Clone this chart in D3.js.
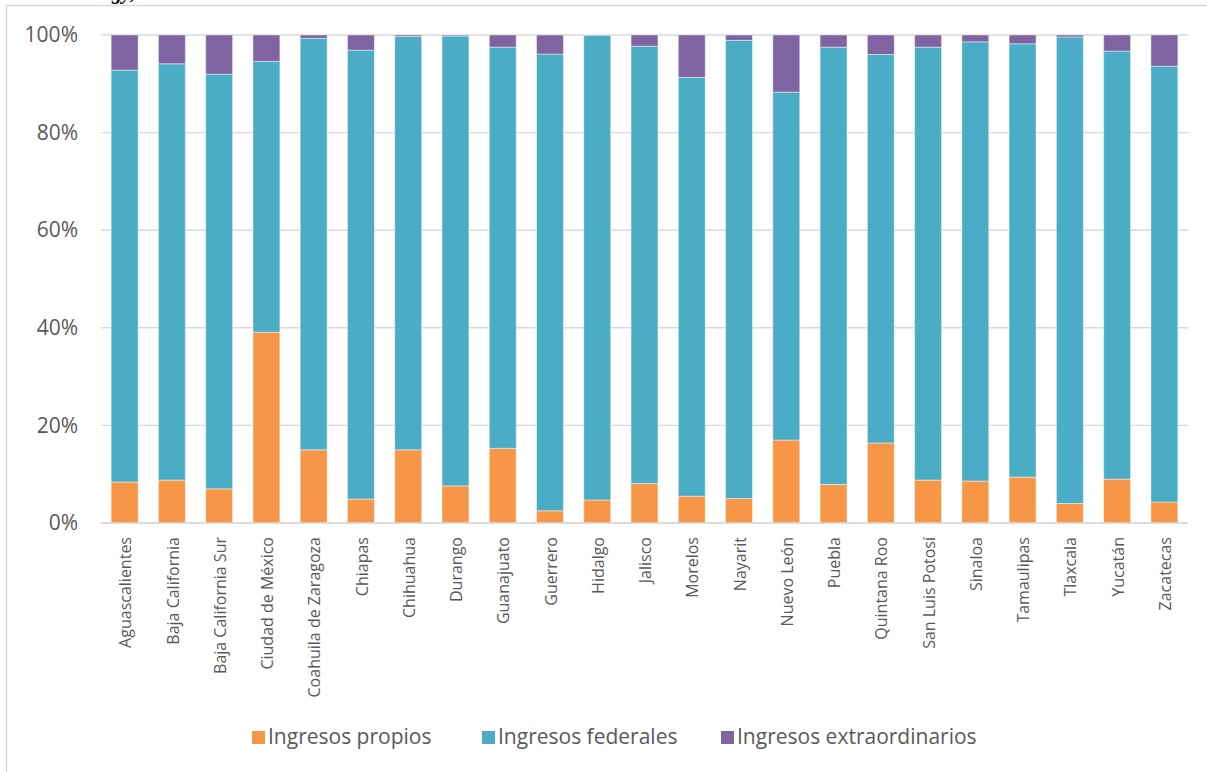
<!DOCTYPE html>
<html>
<head>
<meta charset="utf-8">
<script src="https://cdn.jsdelivr.net/npm/d3@7"></script>
<style>
  html, body { margin: 0; padding: 0; background: #fff; }
  svg { display: block; }
</style>
</head>
<body>
<svg id="chart" width="1207" height="772"></svg>
<script>
const categories = ["Aguascalientes","Baja California","Baja California Sur","Ciudad de México","Coahuila de Zaragoza","Chiapas","Chihuahua","Durango","Guanajuato","Guerrero","Hidalgo","Jalisco","Morelos","Nayarit","Nuevo León","Puebla","Quintana Roo","San Luis Potosí","Sinaloa","Tamaulipas","Tlaxcala","Yucatán","Zacatecas"];
const propios = [8.4, 8.8, 7.0, 39.1, 15.0, 4.9, 15.0, 7.6, 15.3, 2.5, 4.7, 8.1, 5.5, 5.0, 17.0, 7.9, 16.4, 8.8, 8.6, 9.4, 4.0, 9.0, 4.3];
const federales = [84.4, 85.3, 85.0, 55.5, 84.3, 92.0, 84.7, 92.2, 82.2, 93.6, 95.2, 89.6, 85.8, 93.9, 71.3, 89.6, 79.6, 88.7, 90.0, 88.8, 95.6, 87.7, 89.3];
const extraordinarios = [7.2, 5.9, 8.0, 5.4, 0.7, 3.1, 0.3, 0.2, 2.5, 3.9, 0.1, 2.3, 8.7, 1.1, 11.7, 2.5, 4.0, 2.5, 1.4, 1.8, 0.4, 3.3, 6.4];
const seriesNames = ["Ingresos propios", "Ingresos federales", "Ingresos extraordinarios"];
const seriesColors = ["#F79646", "#4BACC6", "#8064A2"];
const yTicks = [0, 20, 40, 60, 80, 100];

const svg = d3.select("#chart");
const font = "'Open Sans', 'Noto Sans', sans-serif";

// outer chart border (partly off-canvas)
svg.append("rect").attr("x", 6.5).attr("y", 5.5).attr("width", 1220).attr("height", 800)
  .attr("fill", "none").attr("stroke", "#D9D9D9").attr("stroke-width", 1.5);

// cut-off title remnant (as in the reference, only its descenders show)
svg.append("text").attr("x", 112).attr("y", -1).text("gy,")
  .attr("font-family", "'Liberation Serif', serif").attr("font-weight", "bold")
  .attr("font-style", "italic").attr("font-size", 20).attr("fill", "#000");

const x0 = 101, x1 = 1188, yTop = 35, yBot = 523;
const x = d3.scaleBand().domain(categories).range([x0, x1]).paddingInner(0.43).paddingOuter(0.215);
const y = d3.scaleLinear().domain([0, 100]).range([yBot, yTop]);

// gridlines
svg.append("g").selectAll("line").data(yTicks).join("line")
  .attr("x1", x0).attr("x2", x1)
  .attr("y1", d => y(d)).attr("y2", d => y(d))
  .attr("stroke", "#D9D9D9").attr("stroke-width", 1.4);

// y axis labels
const yAxis = d3.axisLeft(y).tickValues(yTicks).tickFormat(d => d + "%").tickSize(0).tickPadding(0);
const gy = svg.append("g").attr("transform", "translate(78,0)").call(yAxis);
gy.select(".domain").remove();
gy.selectAll("text").attr("font-family", font).attr("font-size", 21).attr("fill", "#595959");

// stacked data
const rows = categories.map((c, i) => ({cat: c, p: propios[i], f: federales[i], e: extraordinarios[i]}));
const stack = d3.stack().keys(["p", "f", "e"]);
const stacked = stack(rows);

svg.append("g").selectAll("g").data(stacked).join("g")
  .attr("fill", (d, i) => seriesColors[i])
  .selectAll("rect").data(d => d).join("rect")
  .attr("x", d => x(d.data.cat))
  .attr("width", x.bandwidth())
  .attr("y", d => y(d[1]))
  .attr("height", d => y(d[0]) - y(d[1]))
  .attr("stroke", "rgba(255,255,255,0.45)").attr("stroke-width", 1);

// baseline
svg.append("line").attr("x1", x0).attr("x2", x1).attr("y1", yBot).attr("y2", yBot)
  .attr("stroke", "#D9D9D9").attr("stroke-width", 1.6);

// x labels
const xAxis = d3.axisBottom(x).tickSize(0).tickPadding(0);
const gx = svg.append("g").attr("transform", `translate(0,${yBot})`).call(xAxis);
gx.select(".domain").remove();
gx.selectAll("text")
  .attr("font-family", font).attr("font-size", 16).attr("fill", "#595959")
  .attr("text-anchor", "end")
  .attr("transform", "translate(1,14) rotate(-90)")
  .attr("x", 0).attr("y", 0).attr("dy", "0.35em");

// legend
const legendX = [252, 482, 721];
const lg = svg.append("g").selectAll("g").data(seriesNames).join("g")
  .attr("transform", (d, i) => `translate(${legendX[i]},737)`);
lg.append("rect").attr("x", 0).attr("y", -6).attr("width", 13).attr("height", 13)
  .attr("fill", (d, i) => seriesColors[i]);
lg.append("text").attr("x", 16).attr("y", 0).attr("dy", "0.35em").text(d => d)
  .attr("font-family", font).attr("font-size", 21).attr("fill", "#595959");
</script>
</body>
</html>
